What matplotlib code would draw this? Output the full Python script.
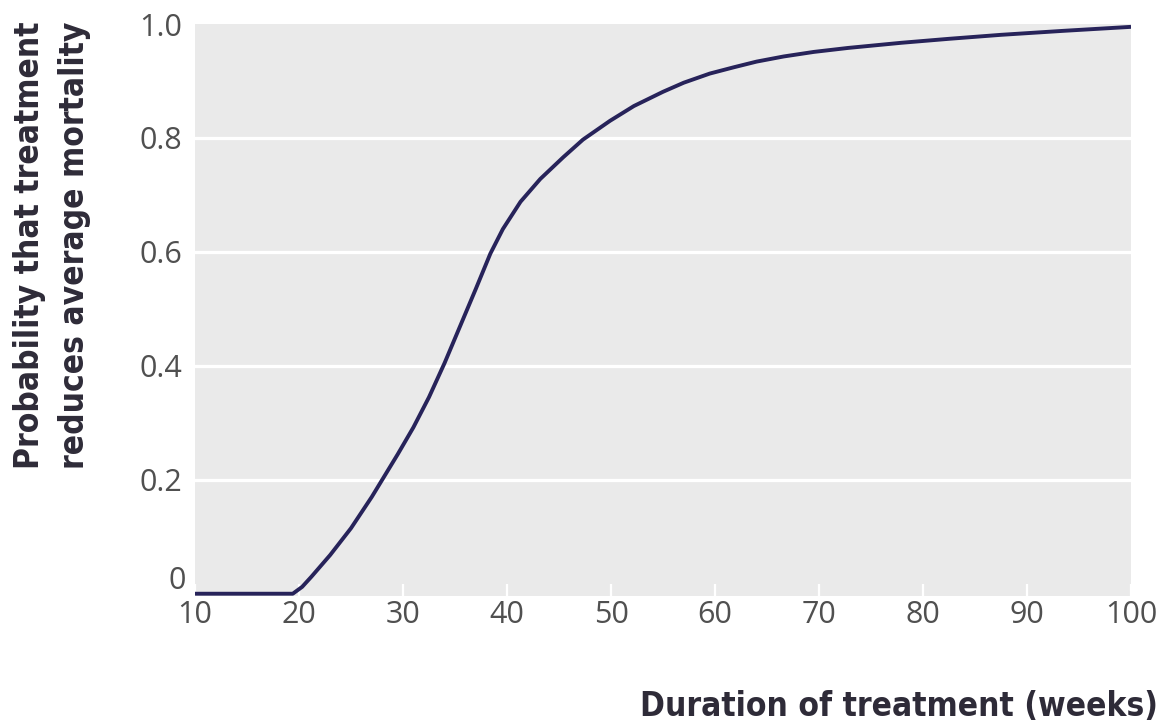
import matplotlib
matplotlib.use("Agg")
import matplotlib.pyplot as plt
from matplotlib import font_manager

# Probability that treatment reduces average mortality, by treatment duration
weeks = [10, 15, 19.4, 20.3, 21.2, 23.0, 25.0, 27.0, 28.0, 29.5, 31.0, 32.5,
         34.0, 35.5, 37.0, 38.4, 39.6, 41.3, 43.2, 45.4, 47.3, 49.9, 52.2,
         55.0, 57.0, 59.5, 61.8, 64.0, 66.6, 69.5, 72.8, 77.9, 82.5, 87.5,
         93.5, 100]
prob = [0, 0, 0, 0.012, 0.030, 0.068, 0.115, 0.170, 0.200, 0.245, 0.292,
        0.345, 0.405, 0.470, 0.535, 0.597, 0.640, 0.688, 0.728, 0.766, 0.797,
        0.830, 0.856, 0.881, 0.897, 0.913, 0.924, 0.934, 0.943, 0.951, 0.958,
        0.967, 0.974, 0.981, 0.988, 0.995]

x_ticks = [10, 20, 30, 40, 50, 60, 70, 80, 90, 100]
y_ticks = [0.2, 0.4, 0.6, 0.8, 1.0]
y_ticklabels = ["0.2", "0.4", "0.6", "0.8", "1.0"]

ylabel_lines = ["Probability that treatment", "reduces average mortality"]
xlabel = "Duration of treatment (weeks)"

names = {f.name for f in font_manager.fontManager.ttflist}
label_family = ["Liberation Sans Narrow"] if "Liberation Sans Narrow" in names else ["DejaVu Sans"]

W, H = 1163, 725
fig = plt.figure(figsize=(W / 100, H / 100), dpi=100)
ax = fig.add_axes([195 / W, 1 - 596 / H, (1131 - 195) / W, (596 - 24) / H])
ax.set_facecolor("#eaeaea")

ax.set_xlim(10, 100)
ax.set_ylim(-0.004, 1.0)

for v in y_ticks[:-1]:
    ax.axhline(v, color="white", lw=2.3, zorder=1)

ax.plot(weeks, prob, color="#27235a", lw=2.8, solid_capstyle="butt",
        solid_joinstyle="round", zorder=3)

for s in ax.spines.values():
    s.set_visible(False)

tick_font = dict(family="Open Sans", size=22, color="#505050")
ax.set_xticks(x_ticks)
ax.set_xticklabels([str(t) for t in x_ticks], **tick_font)
ax.tick_params(axis="x", direction="in", length=9, width=1.6, color="white", pad=3)
ax.set_yticks(y_ticks)
ax.set_yticklabels(y_ticklabels, **tick_font)
ax.tick_params(axis="y", length=0, pad=9)

# zero label sits just above the baseline
ax.annotate("0", xy=(0, 0), xycoords=("axes fraction", "data"),
            xytext=(-9, 13), textcoords="offset pixels",
            ha="right", va="center", **tick_font)

label_font = dict(family=label_family + ["DejaVu Sans"], weight="bold",
                  stretch="condensed", size=24, color="#2e2b38")
fig.text(30 / W, 1 - 245 / H, ylabel_lines[0], rotation=90,
         ha="center", va="center", **label_font)
fig.text(75 / W, 1 - 245 / H, ylabel_lines[1], rotation=90,
         ha="center", va="center", **label_font)
fig.text(1158 / W, 1 - 707 / H, xlabel, ha="right", va="center", **label_font)

fig.savefig("out.png", dpi=100, facecolor="white")
